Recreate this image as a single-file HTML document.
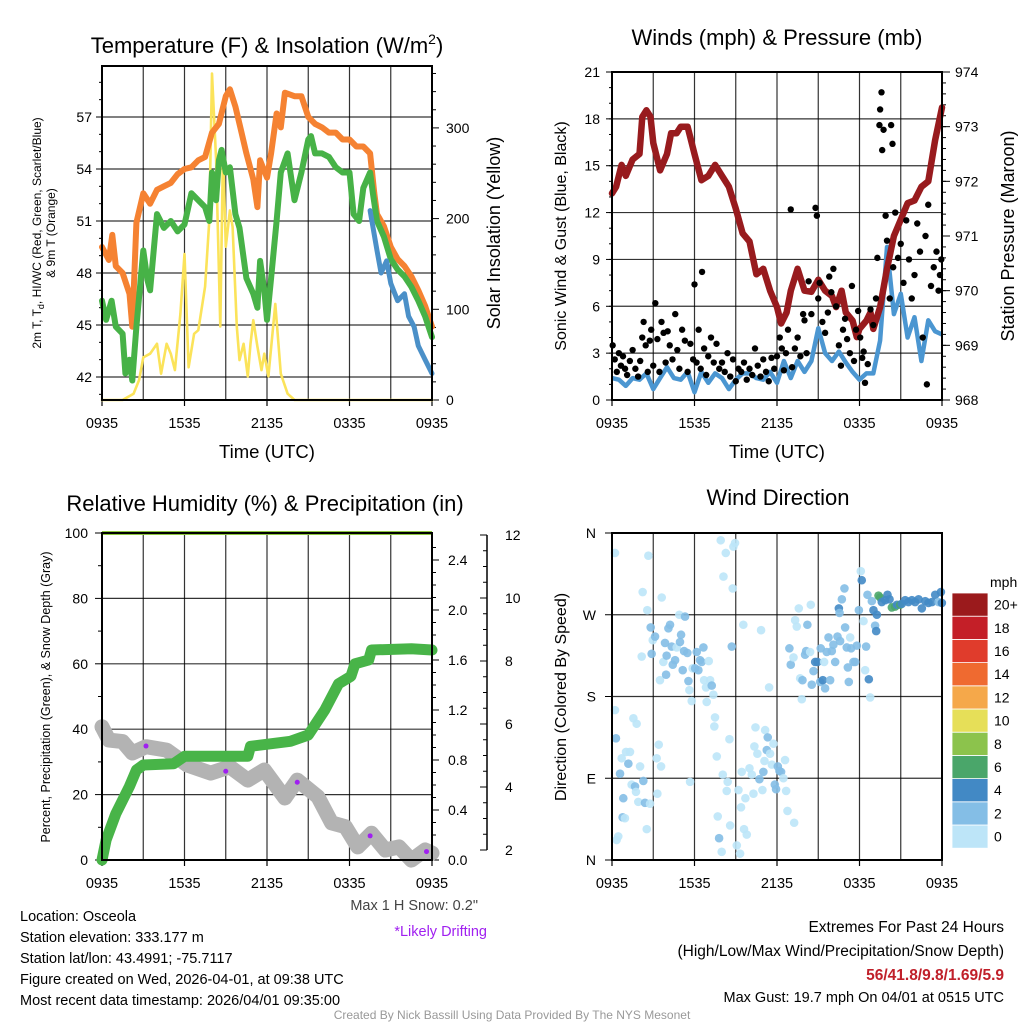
<!DOCTYPE html>
<html><head><meta charset="utf-8"><style>
body{margin:0;background:#fff;}
svg{display:block;font-family:"Liberation Sans",sans-serif;}
</style></head><body>
<svg id="chart" width="1024" height="1024" viewBox="0 0 1024 1024">
<rect width="1024" height="1024" fill="#fff"/>
<g id="g1"></g>
<g id="g2"></g>
<g id="g3"></g>
<g id="g4"></g>
<g font-size="14.5" fill="#000">
<text x="20" y="921">Location: Osceola</text>
<text x="20" y="942">Station elevation: 333.177 m</text>
<text x="20" y="963">Station lat/lon: 43.4991; -75.7117</text>
<text x="20" y="984">Figure created on Wed, 2026-04-01, at 09:38 UTC</text>
<text x="20" y="1005">Most recent data timestamp: 2026/04/01 09:35:00</text>
<text x="478" y="910" text-anchor="end" fill="#444">Max 1 H Snow: 0.2"</text>
<text x="487" y="936" text-anchor="end" fill="#a020f0">*Likely Drifting</text>
<text x="1004" y="932" text-anchor="end" font-size="15.5">Extremes For Past 24 Hours</text>
<text x="1004" y="956" text-anchor="end" font-size="15.5">(High/Low/Max Wind/Precipitation/Snow Depth)</text>
<text x="1004" y="980" text-anchor="end" font-size="15.5" font-weight="bold" fill="#c0202a">56/41.8/9.8/1.69/5.9</text>
<text x="1004" y="1002" text-anchor="end" font-size="14.5">Max Gust: 19.7 mph On 04/01 at 0515 UTC</text>
<text x="512" y="1019" text-anchor="middle" font-size="12" fill="#999">Created By Nick Bassill Using Data Provided By The NYS Mesonet</text>
</g>
</svg>
<script>
// ---------- DATA ----------
const xTickLabels = ["0935","1535","2135","0335","0935"];
// Panel 1 (hours since 0935)
const orangeT = [0,0.5,0.75,1,1.5,2,2.2,2.5,3,3.5,4,4.5,5,5.5,6,6.5,7,7.5,8,8.5,9,9.3,9.7,10,10.5,11,11.3,11.5,12,12.3,12.7,13,13.3,14,14.5,15,15.5,16,16.5,17,17.5,18,18.5,19,19.5,19.8,20,20.5,21,21.5,22,22.5,23,23.5,24];
const orangeV = [49.5,48.75,50.2,48.4,48.0,46.8,44.9,50.9,52.6,52.0,52.8,53.0,53.2,53.7,54.0,54.1,54.5,54.7,56.1,56.6,58.2,58.6,57.6,56.6,54.9,53.4,51.8,54.5,53.5,54.9,57.2,56.4,58.4,58.2,58.2,57.0,56.6,56.4,56.1,56.1,55.7,55.7,55.3,55.3,54.9,52.6,51.4,50.7,49.5,48.8,48.4,47.8,47.0,46.1,44.9];
const greenT = [0,0.3,0.7,1,1.5,1.7,2,2.2,2.5,3,3.3,3.5,4,4.5,5,5.5,6,6.5,7,7.5,7.8,8,8.3,8.5,8.7,9,9.3,9.7,10,10.5,11,11.3,11.5,11.8,12,12.3,12.7,13,13.5,14,14.5,15,15.2,15.5,16,16.5,17,17.5,18,18.3,18.7,19,19.5,19.7,20,20.5,21,21.5,22,22.5,23,23.5,24];
const greenV = [46.4,45.3,46.4,44.9,44.5,42.2,43.0,41.8,44.9,49.3,47.6,47.0,51.4,50.6,51.0,50.4,50.8,52.6,52.2,51.8,51.0,53.8,52.2,54.5,55.1,53.8,54.1,51.4,50.6,47.7,46.8,46.0,48.7,47.0,45.3,47.7,51.0,53.8,54.9,52.2,53.8,55.7,55.9,54.9,54.9,54.7,54.1,53.8,53.8,51.4,51.0,52.9,53.8,52.6,51.0,50.1,48.8,48.2,47.8,47.2,46.4,45.5,44.3];
const chillT = [19.5,20,20.3,20.7,21,21.5,22,22.3,22.7,23,23.5,24];
const chillV = [51.6,49.3,48.0,48.7,47.4,46.4,46.8,45.5,44.9,43.8,43.0,42.2];
const solarT = [0,1.5,2.3,2.7,3,3.5,4,4.3,4.7,5,5.3,5.7,6,6.3,6.7,7,7.5,7.8,8,8.3,8.6,8.8,9,9.3,9.5,9.8,10,10.3,10.6,10.8,11,11.3,11.6,11.8,12.1,12.6,13,13.5,14,24];
const solarV = [0,0,7,22,47,51,62,29,62,51,33,95,161,36,73,77,125,198,360,265,81,276,169,209,191,81,44,62,26,62,88,59,33,51,26,106,29,7,0,0];
// Panel 2
const presT = [0,0.3,0.7,1,1.5,2,2.2,2.5,2.8,3,3.3,3.5,4,4.3,4.7,5,5.5,6,6.5,7,7.5,8,8.5,9,9.5,10,10.5,11,11.5,12,12.3,12.7,13,13.5,14,14.5,15,15.5,16,16.3,16.7,17,17.5,17.8,18,18.5,18.8,19,19.5,20,20.5,21,21.5,22,22.5,23,23.5,24];
const presV = [971.78,971.9,972.3,972.1,972.4,972.5,973.18,973.3,973.18,972.7,972.4,972.2,972.5,972.88,972.88,973.0,973.0,972.5,972.02,972.1,972.3,972.1,971.9,971.5,971.05,970.9,970.3,970.4,970.0,969.7,969.4,969.6,970.0,970.4,970.0,969.98,970.2,970.0,969.9,969.7,970.0,969.6,969.45,969.15,969.3,969.45,969.6,969.3,969.7,970.4,971.0,971.3,971.6,971.65,971.9,972.0,972.75,973.35];
const windT = [0,0.5,1,1.5,2,2.5,3,3.5,4,4.5,5,5.5,6,6.5,7,7.5,8,8.5,9,9.5,10,10.5,11,11.5,12,12.5,13,13.5,14,14.5,15,15.5,16,16.5,17,17.5,18,18.5,19,19.5,20,20.5,21,21.5,22,22.5,23,23.5,24];
const windV = [1.4,1.3,0.9,1.4,1.3,1.7,0.7,1.4,2.1,1.4,1.3,1.8,0.5,1.8,1.1,1.7,1.4,0.7,1.3,1.7,1.7,1.4,1.3,1.8,1.1,2.5,1.4,2.5,1.8,2.5,4.6,3.0,2.5,3.1,2.4,1.8,1.3,1.7,1.7,3.8,9.8,5.5,6.8,4.0,5.3,2.5,5.1,4.4,4.2];
const gustT = [0.05,0.2,0.35,0.5,0.65,0.8,0.95,1.1,1.3,1.5,1.7,1.9,2.05,2.2,2.3,2.45,2.6,2.75,2.85,3.0,3.15,3.3,3.45,3.6,3.75,3.9,4.05,4.2,4.4,4.6,4.75,4.9,5.1,5.3,5.5,5.7,5.9,6.0,6.15,6.3,6.45,6.55,6.7,6.85,7.0,7.2,7.4,7.6,7.8,8.0,8.2,8.4,8.6,8.8,9.0,9.2,9.4,9.6,9.8,10.0,10.2,10.4,10.6,10.8,11.0,11.2,11.4,11.6,11.8,12.0,12.2,12.35,12.5,12.65,12.8,13.0,13.1,13.3,13.5,13.7,13.9,14.0,14.15,14.3,14.5,14.8,14.9,15.0,15.1,15.3,15.5,15.7,15.8,15.95,16.1,16.3,16.5,16.65,16.8,16.95,17.1,17.3,17.45,17.6,17.75,17.9,18.05,18.2,18.3,18.4,18.6,18.8,19.0,19.2,19.3,19.45,19.5,19.6,19.65,19.75,19.9,20.0,20.2,20.3,20.4,20.45,20.6,20.8,21.0,21.2,21.4,21.6,21.8,22.0,22.2,22.4,22.6,22.8,22.9,23.0,23.2,23.4,23.6,23.75,23.85,23.95];
const gustV = [3.5,2.6,1.8,3.0,2.2,2.8,2.0,1.6,2.5,3.2,2.0,1.5,2.5,4.0,5.0,3.5,1.8,3.8,4.5,2.2,6.2,3.9,1.8,5.0,4.3,2.4,4.4,3.5,2.6,5.5,3.2,2.0,4.5,3.8,1.8,3.6,2.6,7.4,2.4,4.5,2.0,8.2,3.3,1.6,2.8,4.0,2.4,3.6,2.0,2.4,1.8,3.0,1.5,2.6,1.2,2.0,1.8,2.4,1.3,2.0,1.6,3.3,2.2,1.5,2.6,1.8,1.2,2.7,2.0,2.8,4.0,3.3,1.9,3.0,4.5,12.2,2.1,3.3,4.0,2.8,5.5,5.1,3.0,7.6,5.5,12.3,11.8,6.5,7.5,5.0,4.3,5.6,7.9,6.9,8.4,6.0,3.5,2.2,4.5,5.2,3.9,3.0,7.3,2.5,4.5,5.7,4.0,2.7,3.1,1.1,2.3,5.8,4.8,6.5,9.1,17.6,18.6,19.7,16.0,17.3,11.8,10.2,6.5,17.6,16.4,8.5,12.0,9.1,10.0,7.5,11.5,9.0,6.5,8.0,11.3,9.5,4.0,10.5,1.0,12.5,7.3,8.5,9.5,7.0,8.0,9.0];
// Panel 3
const precipT = [0,0.3,1.0,2.0,2.5,3.0,5.2,6.0,10.6,10.8,13.7,15.0,16.2,17.2,18.1,18.4,19.4,19.6,22.5,24];
const precipV = [0,0.16,0.37,0.59,0.72,0.76,0.77,0.83,0.83,0.91,0.95,1.0,1.2,1.41,1.47,1.57,1.6,1.68,1.69,1.68];
const snowT = [0,0.5,1.5,2.2,3.2,4.7,6.2,7.9,9.3,10.6,11.8,13.3,14.2,15.7,16.7,17.7,18.6,19.6,20.6,21.6,22.5,23.5,24];
const snowV = [5.91,5.49,5.44,5.08,5.28,5.17,4.70,4.44,4.64,4.22,4.54,3.65,4.22,3.69,2.86,2.74,2.10,2.53,2.0,2.1,1.68,2.0,1.9];
const driftT = [3.2,9.0,14.2,19.5,23.6];
const driftV = [5.30,4.50,4.15,2.45,1.95];
const rhT = [0,24];
const rhV = [100,100];
// Panel 4
const dirT = [0,0,0.07,0.12,0.24,0.37,0.49,0.61,0.56,0.73,0.81,0.98,1.1,1.22,1.35,1.47,1.59,1.54,1.71,1.84,2.08,2.2,2.33,2.45,2.03,2.37,1.96,2.57,2.62,2.77,2.94,2.69,3.06,3.11,3.21,3.3,3.43,3.38,3.55,3.67,3.75,3.79,3.92,4.04,4.16,4.24,4.41,4.53,4.72,4.77,4.85,4.97,5.07,5.14,5.31,5.39,5.46,5.51,5.63,5.7,5.88,6.0,6.12,6.24,6.36,6.49,6.54,6.68,6.73,6.88,6.98,7.1,7.22,7.34,7.29,7.47,7.54,7.64,7.76,7.83,7.91,7.96,8.13,8.2,8.27,8.4,8.45,8.57,8.64,8.69,8.81,8.94,9.06,9.18,9.25,9.42,9.3,9.47,9.57,9.67,9.87,10.04,10.16,10.23,10.31,10.45,10.6,10.72,10.82,10.89,10.97,11.02,11.14,11.21,11.31,11.38,11.51,11.63,11.73,11.82,11.95,12.07,12.19,12.36,12.48,12.56,12.66,13.15,12.8,12.9,13.1,13.22,13.34,13.49,13.59,13.71,13.76,13.95,14.03,14.12,14.32,14.37,14.44,14.57,14.69,14.86,15.06,15.1,15.25,15.35,15.42,15.54,15.67,15.79,15.91,16.03,16.16,16.33,16.43,16.48,16.52,16.65,16.84,16.89,17.01,17.09,17.16,17.26,17.33,17.5,17.63,17.75,17.9,18.04,18.11,18.24,18.36,18.43,18.53,18.63,18.73,18.85,18.97,19.09,19.17,19.22,19.34,19.46,19.83,20.0,20.15,20.32,20.56,20.69,20.93,21.05,21.3,21.54,21.79,22.03,22.28,22.52,22.77,23.01,23.26,23.5,23.75,23.92,23.99,19.58];
const dirV = [338,165,134,22,26,95,112,68,47,46,119,106,119,83,156,81,150,75,64,103,87,63,34,335,295,275,224,62,256,242,246,227,112,73,127,198,289,103,218,239,204,225,255,259,235,215,220,234,270,240,248,209,230,268,228,197,187,86,175,211,211,229,209,220,218,234,198,190,174,219,198,192,182,157,147,114,48,24,352,9,94,312,338,76,86,133,38,235,299,345,349,16,77,7,58,259,97,34,68,28,101,94,73,125,146,117,89,253,77,97,109,143,121,135,190,117,105,128,83,78,103,98,97,90,110,76,54,41,233,215,223,264,257,277,200,177,198,226,230,259,229,281,193,208,218,218,196,233,198,218,189,229,245,198,230,237,218,246,277,272,241,287,299,256,234,212,196,245,233,218,218,236,275,318,308,263,209,235,292,199,179,285,275,258,252,270,291,289,286,292,287,278,279,281,281,282,286,284,286,284,287,277,285,283,284,292,284,295,283,284];
const dirS = [1,1,3,1,1,3,1,3,3,1,1,3,1,1,1,3,1,1,1,1,2.5,3,1,1,1,1,1,1,3,1,2.5,3,1,1,1,1,1,1,1,3,3,3,3,3,3,3,3,1,1,3,3,3,3,3,3,3,1,1,1,1,3,3,3,3,3,3,1,1,1,1,1,3,1,1,1,1,1,3,1,1,1,1,1,1,1,1,1,3,1,1,1,1,1,1,1,1,1,1,1,1,1,1,1,1,1,1,3,1,1,3,1,1,3,3,1,1,1,1,3,3,3,3,3,1,1,1,1,1,3,3,1,1,1,1,1,1,3,3,3,3,1,1,3,3,5,5,3,3,5,1,3,3,3,3,3,3,3,3,5,3,3,3,3,3,3,3,3,1,3,3,3,3,3,1,5,1,1,3,3,5,1,3,5,3,5,5,7,7,5,5,5,7,7,5,7,5,5,5,5,5,5,5,5,5,5,5,3,5,5,5,9.5];
const cbLabels = ["0","2","4","6","8","10","12","14","16","18","20+"];
const cbColors = ["#bde5f8","#84bee6","#4289c5","#4aa66a","#8cc34c","#e6df58","#f5a84a","#ef6a30","#e03c2c","#c41f28","#9b1a1c"];

// ---------- HELPERS ----------
const NS="http://www.w3.org/2000/svg";
function mk(parent,tag,attrs){const e=document.createElementNS(NS,tag);for(const k in attrs)e.setAttribute(k,attrs[k]);parent.appendChild(e);return e;}
function txt(parent,x,y,s,attrs){const t=mk(parent,"text",Object.assign({x:x,y:y},attrs||{}));t.textContent=s;return t;}
function pathFrom(ts,vs,fx,fy){let d="";for(let i=0;i<ts.length;i++)d+=(i?"L":"M")+fx(ts[i]).toFixed(1)+","+fy(vs[i]).toFixed(1);return d;}
function frame(g,L,T,R,B){
  for(let i=1;i<8;i++){const x=L+(R-L)*i/8;
    const l=mk(g,"line",{x1:x,y1:T,x2:x,y2:B,stroke:"#000","stroke-width":1.2,"stroke-opacity":0.8});
    
    }
  for(let i=0;i<5;i++){const x=L+(R-L)*i/4;
    const tk=mk(g,"line",{x1:x,y1:B,x2:x,y2:B+6,stroke:"#000","stroke-width":1.2});
    
    
    const t=txt(g,x,B+28,xTickLabels[i],{"text-anchor":"middle","font-size":14.5});
    
    }
}
function border(g,L,T,R,B){const r=mk(g,"rect",{x:L,y:T,width:R-L,height:B-T,fill:"none",stroke:"#000","stroke-width":2});
  
  }
function hgrid(g,L,R,y){const l=mk(g,"line",{x1:L,y1:y,x2:R,y2:y,stroke:"#000","stroke-width":1.2,"stroke-opacity":0.8});
  
  }
function tick(g,x,y,len){const l=mk(g,"line",{x1:x,y1:y,x2:x+len,y2:y,stroke:"#000","stroke-width":1});
  
  }

// ---------- PANEL 1 ----------
(function(){
  const g=document.getElementById("g1");
  const L=102,R=432,T=66,B=400;
  const fx=t=>L+t*(R-L)/24;
  const fy=v=>377-(v-42)*52/3;
  const fs=v=>400-v*0.907;
  frame(g,L,T,R,B);
  [42,45,48,51,54,57].forEach(v=>{hgrid(g,L,R,fy(v));tick(g,L-6,fy(v),6);
    const t=txt(g,L-10,fy(v)+5,String(v),{"text-anchor":"end","font-size":14});
    
    });
  for(let v=41;v<=59;v++)tick(g,L-3,fy(v),3);
  for(let v=0;v<=360;v+=20)tick(g,R,fs(v),v%100==0?7:4);
  [0,100,200,300].forEach(v=>{const t=txt(g,R+14,fs(v)+5,String(v),{"font-size":14});
    
    });
  const ps=[[solarT,solarV,fs,"#fbe35a",2.6,"solar-insolation-line"],[orangeT,orangeV,fy,"#f58232",6,"temp-9m-line"],[greenT,greenV,fy,"#47b247",6,"dewpoint-line"],[chillT,chillV,fy,"#4b90c8",5,"wind-chill-line"]];
  ps.forEach(p=>{const e=mk(g,"path",{d:pathFrom(p[0],p[1],fx,p[2]),fill:"none",stroke:p[3],"stroke-width":p[4],"stroke-linejoin":"round","stroke-linecap":"round"});
    
    });
  border(g,L,T,R,B);
  let t=txt(g,267,53,"",{"text-anchor":"middle","font-size":22});
  t.innerHTML='Temperature (F) &amp; Insolation (W/m<tspan dy="-9" font-size="14">2</tspan><tspan dy="9">)</tspan>';
  
  
  t=txt(g,267,458,"Time (UTC)",{"text-anchor":"middle","font-size":18.5});
  
  
  t=txt(g,0,0,"",{"text-anchor":"middle","font-size":12,transform:"translate(41,233) rotate(-90)"});
  t.innerHTML='2m T, T<tspan dy="3" font-size="9">d</tspan><tspan dy="-3">, HI/WC (Red, Green, Scarlet/Blue)</tspan>';
  
  
  t=txt(g,0,0,"& 9m T (Orange)",{"text-anchor":"middle","font-size":12,transform:"translate(55,233) rotate(-90)"});
  
  
  t=txt(g,0,0,"Solar Insolation (Yellow)",{"text-anchor":"middle","font-size":18,transform:"translate(500,233) rotate(-90)"});
  
  
})();

// ---------- PANEL 2 ----------
(function(){
  const g=document.getElementById("g2");
  const L=612,R=942,T=72,B=400;
  const fx=t=>L+t*(R-L)/24;
  const fy=v=>B-v*(B-T)/21;
  const fp=p=>B-(p-968)*(B-T)/6;
  frame(g,L,T,R,B);
  for(let v=0;v<=21;v+=3){hgrid(g,L,R,fy(v));tick(g,L-6,fy(v),6);
    const t=txt(g,L-12,fy(v)+5,String(v),{"text-anchor":"end","font-size":14});
    
    }
  for(let v=0;v<=21;v++)tick(g,L-3,fy(v),3);
  for(let p=968;p<=974;p+=0.2)tick(g,R,fp(p),4);
  for(let p=968;p<=974;p++){tick(g,R,fp(p),8);
    const t=txt(g,R+13,fp(p)+5,String(p),{"font-size":14});
    
    }
  let e=mk(g,"path",{d:pathFrom(windT,windV,fx,fy),fill:"none",stroke:"#4b96d1","stroke-width":4.5,"stroke-linejoin":"round"});
  
  
  e=mk(g,"path",{d:pathFrom(presT,presV,fx,fp),fill:"none",stroke:"#981b1e","stroke-width":6.5,"stroke-linejoin":"round","stroke-linecap":"round"});
  
  
  for(let i=0;i<gustT.length;i++){const c=mk(g,"circle",{cx:fx(gustT[i]),cy:fy(gustV[i]),r:3.2,fill:"#000"});
    
    }
  border(g,L,T,R,B);
  let t=txt(g,777,45,"Winds (mph) & Pressure (mb)",{"text-anchor":"middle","font-size":22});
  
  
  t=txt(g,777,458,"Time (UTC)",{"text-anchor":"middle","font-size":18.5});
  
  
  t=txt(g,0,0,"Sonic Wind & Gust (Blue, Black)",{"text-anchor":"middle","font-size":16,transform:"translate(566,236) rotate(-90)"});
  
  
  t=txt(g,0,0,"Station Pressure (Maroon)",{"text-anchor":"middle","font-size":18,transform:"translate(1014,236) rotate(-90)"});
  
  
})();

// ---------- PANEL 3 ----------
(function(){
  const g=document.getElementById("g3");
  const L=102,R=432,T=533,B=860;
  const fx=t=>L+t*(R-L)/24;
  const fy=v=>B-v*(B-T)/100;
  const fpr=p=>B-p*125;
  const fsn=s=>850-(s-2)*31.5;
  frame(g,L,T,R,B);
  for(let v=0;v<=100;v+=20){hgrid(g,L,R,fy(v));tick(g,L-7,fy(v),7);
    const t=txt(g,L-14,fy(v)+5,String(v),{"text-anchor":"end","font-size":14});
    
    }
  for(let v=10;v<100;v+=20)tick(g,L-4,fy(v),4);
  for(let p=0;p<=2.6;p+=0.1)tick(g,R,fpr(p),4);
  for(let p=0;p<=2.41;p+=0.4){tick(g,R,fpr(p),7);
    const t=txt(g,R+16,fpr(p)+5,p.toFixed(1),{"font-size":14});
    
    }
  const ax=mk(g,"line",{x1:487,y1:fsn(12),x2:487,y2:fsn(2),stroke:"#000","stroke-width":1.5});
  
  
  for(let s=2;s<=12;s+=0.5)tick(g,487,fsn(s),s%2==0?-7:-4);
  for(let s=2;s<=12;s+=2){const t=txt(g,505,fsn(s)+5,String(s),{"font-size":14});
    
    }
  let e=mk(g,"path",{d:pathFrom(rhT,rhV,fx,fy),fill:"none",stroke:"#8ec63f","stroke-width":4});
  
  
  e=mk(g,"path",{d:pathFrom(snowT,snowV,fx,fsn),fill:"none",stroke:"#b3b3b3","stroke-width":15,"stroke-linejoin":"round","stroke-linecap":"round"});
  
  
  e=mk(g,"path",{d:pathFrom(precipT,precipV,fx,fpr),fill:"none",stroke:"#48b448","stroke-width":11,"stroke-linejoin":"round","stroke-linecap":"round"});
  
  
  for(let i=0;i<driftT.length;i++){const c=mk(g,"circle",{cx:fx(driftT[i]),cy:fsn(driftV[i]),r:2.5,fill:"#a020f0"});
    
    }
  border(g,L,T,R,B);
  let t=txt(g,265,511,"Relative Humidity (%) & Precipitation (in)",{"text-anchor":"middle","font-size":22});
  
  
  t=txt(g,0,0,"Percent, Precipitation (Green), & Snow Depth (Gray)",{"text-anchor":"middle","font-size":12.5,transform:"translate(50,697) rotate(-90)"});
  
  
})();

// ---------- PANEL 4 ----------
(function(){
  const g=document.getElementById("g4");
  const L=612,R=942,T=533,B=860;
  const fx=t=>L+3+t*(R-L-3)/24;
  const fy=d=>B-d*(B-T)/360;
  const col=s=>cbColors[Math.min(10,Math.floor(s/2))];
  frame(g,L,T,R,B);
  const labs=["N","E","S","W","N"];
  [0,90,180,270,360].forEach((d,i)=>{hgrid(g,L,R,fy(d));tick(g,L-7,fy(d),7);
    const t=txt(g,L-16,fy(d)+5,labs[i],{"text-anchor":"end","font-size":14});
    
    });
  for(let i=0;i<dirT.length;i++){const c=mk(g,"circle",{cx:fx(dirT[i]),cy:fy(dirV[i]),r:4.3,fill:col(dirS[i]),"fill-opacity":0.9});
    
    }
  border(g,L,T,R,B);
  let t=txt(g,778,505,"Wind Direction",{"text-anchor":"middle","font-size":22});
  
  
  t=txt(g,0,0,"Direction (Colored By Speed)",{"text-anchor":"middle","font-size":16,transform:"translate(566,697) rotate(-90)"});
  
  
  const cx=952,cw=36,top=593,h=23.2;
  for(let i=0;i<cbColors.length;i++){const y=top+(10-i)*h;
    const r=mk(g,"rect",{x:cx,y:y,width:cw,height:h,fill:cbColors[i],stroke:"#fff","stroke-width":0.8});
    
    
    const l=txt(g,cx+cw+6,y+h/2+5,cbLabels[i],{"font-size":14});
    
    }
  t=txt(g,990,587,"mph",{"font-size":14});
  
  
})();
</script>
</body></html>
